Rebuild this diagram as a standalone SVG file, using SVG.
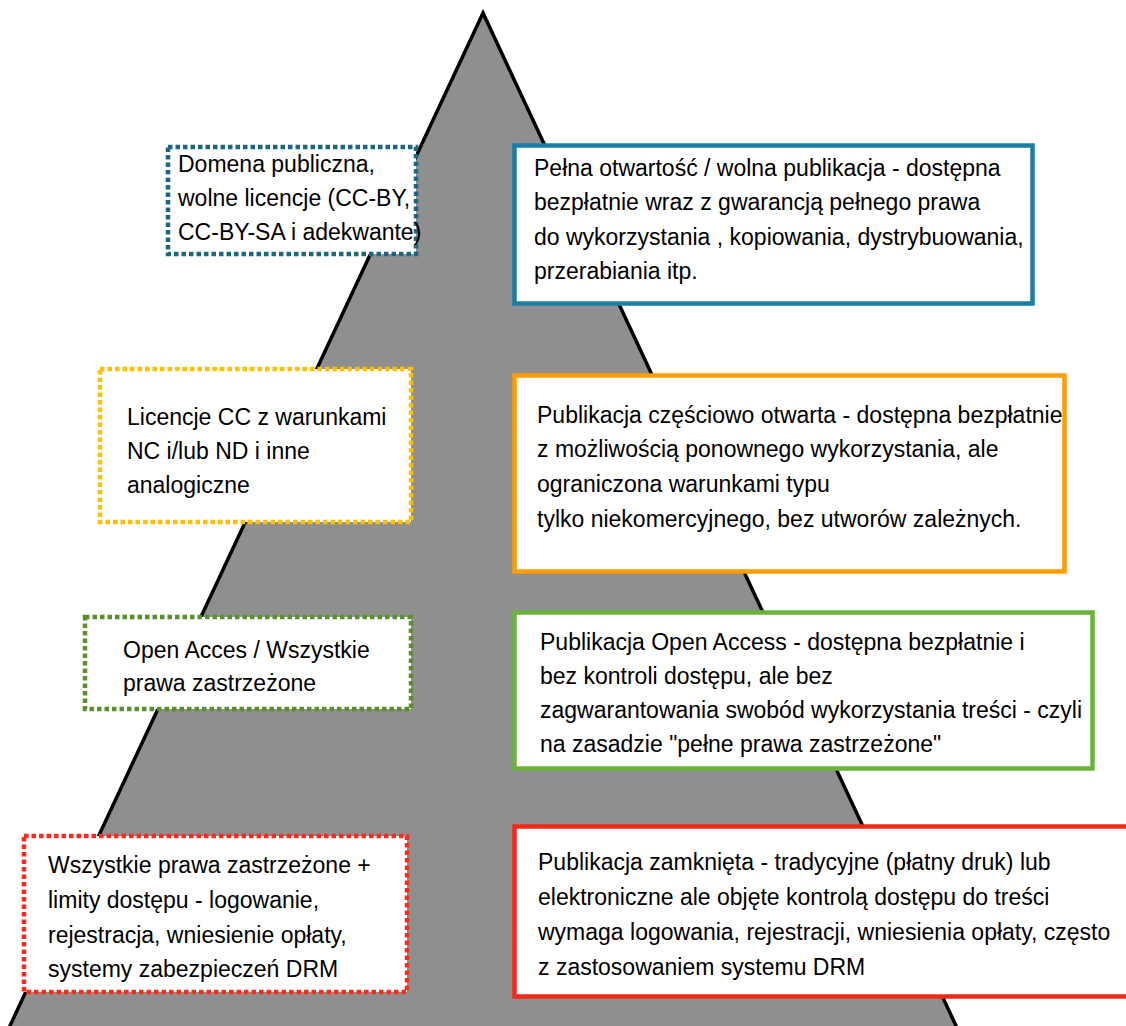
<svg xmlns="http://www.w3.org/2000/svg" width="1126" height="1026" viewBox="0 0 1126 1026">
<style>
text{font-family:"Liberation Sans",Arial,sans-serif;font-size:23px;fill:#000}
.dot{fill:#fff;stroke-width:4.5;stroke-dasharray:4.5 3}
.solid{fill:#fff;stroke-width:4.5}
</style>
<rect width="1126" height="1026" fill="#fff"/>
<g id="pyramid">
<polygon points="483,13 8,1030 958,1030" fill="#8f8f8f" stroke="#000" stroke-width="3.5" stroke-linejoin="miter"/>
</g>
<g id="connectors"></g>
<g id="n1">
<rect class="dot" x="168" y="147" width="248" height="107" stroke="#1d6683"/>
<text x="178" y="172">Domena publiczna,</text>
<text x="178" y="206">wolne licencje (CC-BY,</text>
<text x="178" y="240">CC-BY-SA i adekwante)</text>
</g>
<g id="n2">
<rect class="solid" x="514.5" y="145.5" width="518" height="158" stroke="#1b7ea6"/>
<text x="534" y="176">Pełna otwartość / wolna publikacja - dostępna</text>
<text x="534" y="210">bezpłatnie wraz z gwarancją pełnego prawa</text>
<text x="534" y="245">do wykorzystania , kopiowania, dystrybuowania,</text>
<text x="534" y="279">przerabiania itp.</text>
</g>
<g id="n3">
<rect class="dot" x="100" y="369" width="311" height="153" stroke="#ffc000"/>
<text x="127" y="425">Licencje CC z warunkami</text>
<text x="127" y="459">NC i/lub ND i inne</text>
<text x="127" y="493">analogiczne</text>
</g>
<g id="n4">
<rect class="solid" x="514.5" y="375.5" width="550" height="196" stroke="#fe9c00"/>
<text x="537" y="423">Publikacja częściowo otwarta - dostępna bezpłatnie</text>
<text x="537" y="457">z możliwością ponownego wykorzystania, ale</text>
<text x="537" y="492">ograniczona warunkami typu</text>
<text x="537" y="527">tylko niekomercyjnego, bez utworów zależnych.</text>
</g>
<g id="n5">
<rect class="dot" x="85" y="617" width="326" height="92" stroke="#5a8f2c"/>
<text x="123" y="658">Open Acces / Wszystkie</text>
<text x="123" y="691">prawa zastrzeżone</text>
</g>
<g id="n6">
<rect class="solid" x="514.5" y="612.5" width="578" height="156" stroke="#6bb33d"/>
<text x="540" y="650">Publikacja Open Access - dostępna bezpłatnie i</text>
<text x="540" y="684">bez kontroli dostępu, ale bez</text>
<text x="540" y="718">zagwarantowania swobód wykorzystania treści - czyli</text>
<text x="540" y="752">na zasadzie "pełne prawa zastrzeżone"</text>
</g>
<g id="n7">
<rect class="dot" x="24" y="836" width="383" height="156" stroke="#ff2a1c"/>
<text x="48" y="873">Wszystkie prawa zastrzeżone +</text>
<text x="48" y="908">limity dostępu - logowanie,</text>
<text x="48" y="943">rejestracja, wniesienie opłaty,</text>
<text x="48" y="977">systemy zabezpieczeń DRM</text>
</g>
<g id="n8">
<rect class="solid" x="514.5" y="826.5" width="620" height="170" stroke="#f7281a"/>
<text x="538" y="870">Publikacja zamknięta - tradycyjne (płatny druk) lub</text>
<text x="538" y="905">elektroniczne ale objęte kontrolą dostępu do treści</text>
<text x="538" y="940">wymaga logowania, rejestracji, wniesienia opłaty, często</text>
<text x="538" y="975">z zastosowaniem systemu DRM</text>
</g>
</svg>
